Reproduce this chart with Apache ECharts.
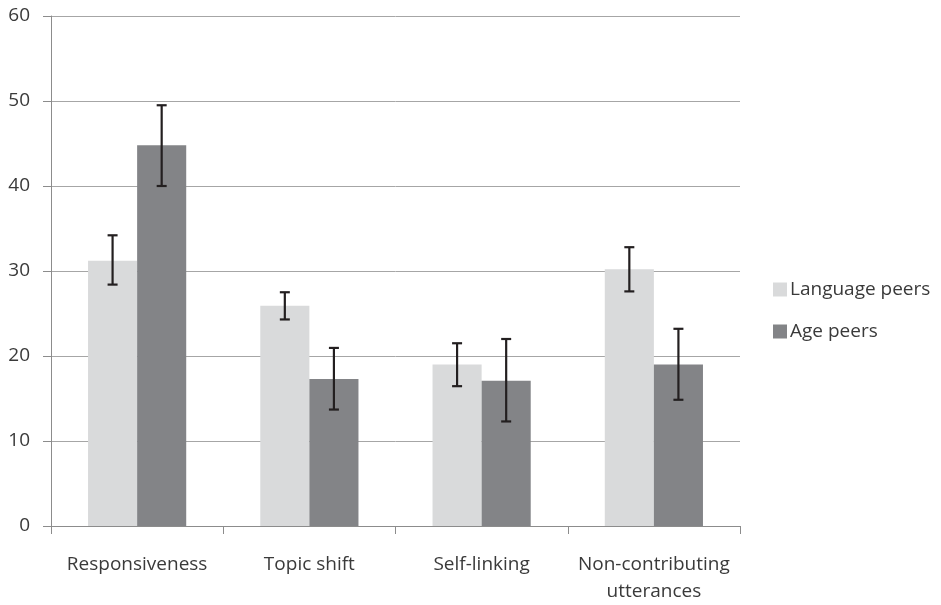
<!DOCTYPE html>
<html>
<head>
<meta charset="utf-8">
<script src="https://cdn.jsdelivr.net/npm/echarts@6/dist/echarts.min.js"></script>
<style>html,body{margin:0;padding:0;background:#fff;}#c{width:941px;height:605px;}</style>
</head>
<body>
<div id="c"></div>
<script>
var categories = ['Responsiveness', 'Topic shift', 'Self-linking', 'Non-contributing\nutterances'];
var seriesNames = ['Language peers', 'Age peers'];
var languagePeers = [31.2, 25.9, 19.0, 30.2];
var languageLow = [28.4, 24.3, 16.45, 27.6];
var languageHigh = [34.2, 27.5, 21.5, 32.8];
var agePeers = [44.8, 17.3, 17.1, 19.0];
var ageLow = [40.0, 13.7, 12.3, 14.85];
var ageHigh = [49.5, 20.95, 22.0, 23.2];
var yTicks = [0, 10, 20, 30, 40, 50, 60];

var FONT = 'Open Sans';
var TXT = '#3a3a3a';
var GAP = 0.43;

function errData(low, high) {
  return categories.map(function (c, i) { return [i, low[i], high[i]]; });
}
function errRender(side) {
  return function (params, api) {
    var i = api.value(0);
    var lo = api.coord([i, api.value(1)]);
    var hi = api.coord([i, api.value(2)]);
    var band = api.size([1, 0])[0];
    var barW = band * (1 - GAP) / 2;
    var x = lo[0] + side * barW / 2;
    var cap = 5;
    var st = { stroke: '#231f20', lineWidth: 2.2 };
    return {
      type: 'group',
      children: [
        { type: 'line', shape: { x1: x, y1: hi[1], x2: x, y2: lo[1] }, style: st },
        { type: 'line', shape: { x1: x - cap, y1: hi[1], x2: x + cap, y2: hi[1] }, style: st },
        { type: 'line', shape: { x1: x - cap, y1: lo[1], x2: x + cap, y2: lo[1] }, style: st }
      ]
    };
  };
}

var chart = echarts.init(document.getElementById('c'));
chart.setOption({
  animation: false,
  backgroundColor: '#fff',
  textStyle: { fontFamily: FONT },
  grid: { left: 51, right: 201, top: 16, bottom: 78, containLabel: false },
  legend: {
    orient: 'vertical',
    left: 773,
    top: 280,
    padding: 0,
    itemWidth: 14,
    itemHeight: 14,
    itemGap: 23,
    icon: 'rect',
    data: seriesNames,
    textStyle: { fontFamily: FONT, fontSize: 19, color: TXT, padding: [0, 0, 0, -2] }
  },
  xAxis: {
    type: 'category',
    data: categories,
    axisLine: { lineStyle: { color: '#8c8c8c', width: 1 } },
    axisTick: { show: true, length: 8, alignWithLabel: false, lineStyle: { color: '#8c8c8c' } },
    axisLabel: { fontFamily: FONT, fontSize: 19, color: TXT, margin: 25, lineHeight: 27, interval: 0 }
  },
  yAxis: {
    type: 'value',
    min: yTicks[0],
    max: yTicks[yTicks.length - 1],
    interval: 10,
    axisLine: { show: true, lineStyle: { color: '#8c8c8c', width: 1 } },
    axisTick: { show: true, length: 8, lineStyle: { color: '#8c8c8c' } },
    axisLabel: { fontFamily: FONT, fontSize: 19, color: TXT, margin: 21 },
    splitLine: { show: true, lineStyle: { color: '#a6a6a6', width: 1 } }
  },
  series: [
    {
      name: seriesNames[0], type: 'bar', data: languagePeers,
      barGap: '0%', barCategoryGap: (GAP * 100) + '%',
      itemStyle: { color: '#d9dadb' }
    },
    {
      name: seriesNames[1], type: 'bar', data: agePeers,
      barGap: '0%', barCategoryGap: (GAP * 100) + '%',
      itemStyle: { color: '#838487' }
    },
    {
      type: 'custom', data: errData(languageLow, languageHigh),
      renderItem: errRender(-1), z: 10, encode: { x: 0, y: [1, 2] }
    },
    {
      type: 'custom', data: errData(ageLow, ageHigh),
      renderItem: errRender(1), z: 10, encode: { x: 0, y: [1, 2] }
    }
  ]
});
</script>
</body>
</html>
